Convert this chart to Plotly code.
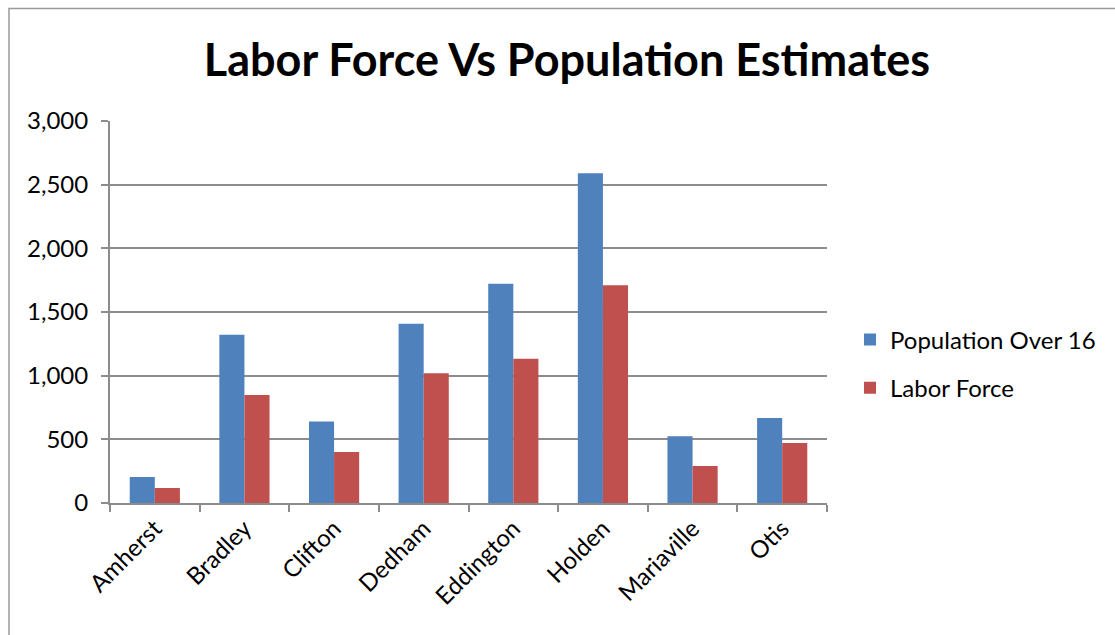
import plotly.graph_objects as go

# Town-level estimates
towns = ["Amherst", "Bradley", "Clifton", "Dedham", "Eddington",
         "Holden", "Mariaville", "Otis"]
population_over_16 = [204, 1321, 641, 1408, 1722, 2590, 524, 667]
labor_force = [118, 848, 400, 1018, 1133, 1711, 290, 471]
y_ticks = [0, 500, 1000, 1500, 2000, 2500, 3000]
y_tick_labels = ["0", "500", "1,000", "1,500", "2,000", "2,500", "3,000"]

FONT = "Lato, 'Open Sans', Arial, sans-serif"
GRID = "#8c8c8c"

fig = go.Figure()
fig.add_trace(go.Bar(
    x=towns, y=population_over_16, name="Population Over 16",
    marker=dict(color="#4F81BD", line=dict(width=0)),
    legendgroup="pop",
))
fig.add_trace(go.Bar(
    x=towns, y=labor_force, name="Labor Force",
    marker=dict(color="#C0504D", line=dict(width=0)),
    legendgroup="lab",
))

fig.update_layout(
    width=1115, height=635,
    margin=dict(l=110, r=288, t=121, b=132, autoexpand=False),
    paper_bgcolor="white", plot_bgcolor="white",
    barmode="group", bargap=0.44, bargroupgap=0,
    font=dict(family=FONT, size=24, color="#000000"),
    title=dict(
        text="<b>Labor Force Vs Population Estimates</b>",
        x=567 / 1115, xanchor="center", xref="container",
        y=1 - 60 / 635, yanchor="middle", yref="container",
        font=dict(family=FONT, size=45, color="#000000"),
    ),
    legend=dict(
        x=(850 - 110) / 717, xanchor="left",
        y=(503.3 - 364) / 382.6, yanchor="middle",
        font=dict(family=FONT, size=24, color="#000000"),
        tracegroupgap=14, itemwidth=30,
        bgcolor="rgba(0,0,0,0)",
    ),
    xaxis=dict(
        showline=True, linecolor=GRID, linewidth=2,
        ticks="outside", ticklen=7, tickcolor=GRID, tickwidth=2,
        tickson="boundaries", tickangle=-45,
        tickfont=dict(family=FONT, size=24, color="#000000"),
        showgrid=False,
    ),
    yaxis=dict(
        range=[0, 3000], tickvals=y_ticks, ticktext=y_tick_labels,
        showline=True, linecolor=GRID, linewidth=2,
        ticks="outside", ticklen=7, tickcolor=GRID, tickwidth=2,
        ticklabelstandoff=8,
        showgrid=True, gridcolor=GRID, gridwidth=2,
        zeroline=False,
        tickfont=dict(family=FONT, size=24, color="#000000"),
    ),
    shapes=[dict(
        type="rect", xref="paper", yref="paper",
        x0=(9 - 110) / 717, x1=1.6,
        y0=-1.0, y1=(503.3 - 8) / 382.6,
        line=dict(color="#9a9a9a", width=1.5),
        fillcolor="rgba(0,0,0,0)", layer="below",
    )],
)

fig.write_html("out.html")
